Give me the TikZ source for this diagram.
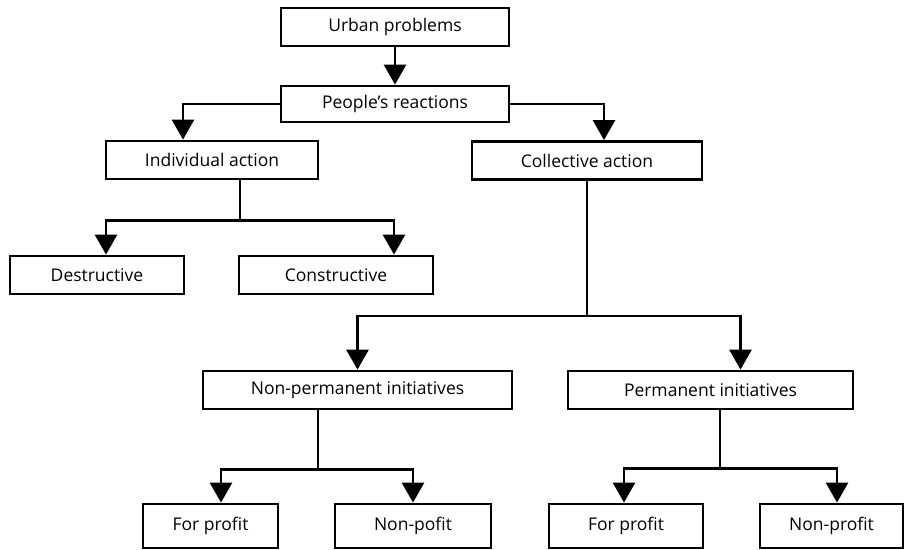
\documentclass[tikz,border=0pt]{standalone}
\usepackage{fontspec}
\setmainfont{Open Sans}
\usepackage{tikz}
\usetikzlibrary{shapes,arrows.meta,positioning,calc}

\tikzset{
  box/.style={draw, line width=2.8pt, rectangle, minimum height=38pt, inner sep=0pt,
    font=\fontsize{17.5}{20}\selectfont},
  conn/.style={line width=2.8pt},
  >={Triangle[length=20pt,width=22pt]}
}

\begin{document}
\begin{tikzpicture}[x=1pt,y=-1pt]
\useasboundingbox (0,0) rectangle (905,549);
% Top of the tree
\node[box, minimum width=228pt] (urban) at (395,27) {Urban problems};
\node[box, minimum width=228pt, minimum height=36pt] (ppl) at (395,104) {People's reactions};
\node[box, minimum width=212pt] (ind) at (212,160) {Individual action};
\node[box, minimum width=230pt] (coll) at (587,160.5) {Collective action};

% Individual branch
\node[box, minimum width=174pt] (des) at (97,275) {Destructive};
\node[box, minimum width=194pt] (con) at (336,275) {Constructive};

% Collective branch
\node[box, minimum width=309pt] (nonperm) at (357.5,390) {Non-permanent initiatives};
\node[box, minimum width=285pt] (perm) at (710.5,390) {Permanent initiatives};

% Bottom row
\node[box, minimum width=135pt, minimum height=44pt] (fp1) at (210.5,526) {For profit};
\node[box, minimum width=156pt, minimum height=44pt] (np1) at (413,526) {Non-pofit};
\node[box, minimum width=154pt, minimum height=44pt] (fp2) at (626,526) {For profit};
\node[box, minimum width=143pt, minimum height=44pt] (np2) at (831.5,526) {Non-profit};

% Connectors
\draw[conn,->] (urban.south) -- (ppl.north);
\draw[conn,->] (ppl.west) -| ([xshift=-29pt]ind.north);
\draw[conn,->] (ppl.east) -| ([xshift=17pt]coll.north);

\draw[conn] ([xshift=28pt]ind.south) -- ++(0,40) coordinate (isplit);
\draw[conn,->] (isplit) -| ([xshift=9pt]des.north);
\draw[conn,->] (isplit) -| ([xshift=58pt]con.north);

\draw[conn] (coll.south) -- ++(0,135) coordinate (csplit);
\draw[conn,->] (csplit) -| (nonperm.north);
\draw[conn,->] (csplit) -| ([xshift=30pt]perm.north);

\draw[conn] ([xshift=-39.5pt]nonperm.south) -- ++(0,59) coordinate (nsplit);
\draw[conn,->] (nsplit) -| ([xshift=10.5pt]fp1.north);
\draw[conn,->] (nsplit) -| (np1.north);

\draw[conn] ([xshift=9.5pt]perm.south) -- ++(0,58) coordinate (psplit);
\draw[conn,->] (psplit) -| ([xshift=-2pt]fp2.north);
\draw[conn,->] (psplit) -| ([xshift=5.5pt]np2.north);
\end{tikzpicture}
\end{document}
